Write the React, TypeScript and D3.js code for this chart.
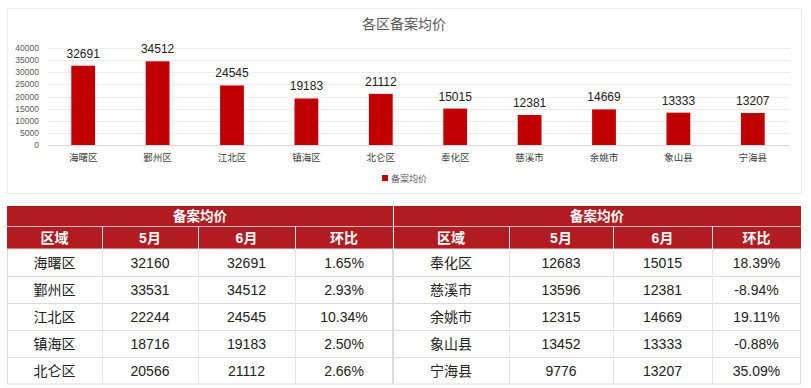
import { useEffect, useRef } from "react";
import * as d3 from "d3";

const districts = ["海曙区", "鄞州区", "江北区", "镇海区", "北仑区", "奉化区", "慈溪市", "余姚市", "象山县", "宁海县"];
const mayPrice = [32160, 33531, 22244, 18716, 20566, 12683, 13596, 12315, 13452, 9776];
const junePrice = [32691, 34512, 24545, 19183, 21112, 15015, 12381, 14669, 13333, 13207];
const momChange = ["1.65%", "2.93%", "10.34%", "2.50%", "2.66%", "18.39%", "-8.94%", "19.11%", "-0.88%", "35.09%"];
const yTicks = [0, 5000, 10000, 15000, 20000, 25000, 30000, 35000, 40000];
const chartTitle = "各区备案均价";
const seriesName = "备案均价";
const colHeaders = ["区域", "5月", "6月", "环比"];

const FONT = "'Liberation Sans', 'Noto Sans CJK SC', sans-serif";
const RED = "#c00000";
const HEAD = "#b01c22";

export default function App() {
  const ref = useRef<SVGSVGElement>(null);

  useEffect(() => {
    const svg = d3.select(ref.current);
    svg.selectAll("*").remove();

    // chart frame
    svg.append("rect").attr("x", 7.5).attr("y", 8.5).attr("width", 794).attr("height", 185)
      .attr("fill", "#fff").attr("stroke", "#ececec");

    svg.append("text").attr("x", 404).attr("y", 29).attr("text-anchor", "middle")
      .attr("font-size", 14).attr("fill", "#595959").text(chartTitle);

    const x = d3.scaleBand<string>().domain(districts).range([46, 790])
      .paddingInner(0.68).paddingOuter(0.34);
    const y = d3.scaleLinear().domain([0, 40000]).range([145, 48]);

    const grid = svg.append("g");
    grid.selectAll("line").data(yTicks).join("line")
      .attr("x1", 48).attr("x2", 790)
      .attr("y1", (d) => Math.round(y(d)) + 0.5).attr("y2", (d) => Math.round(y(d)) + 0.5)
      .attr("stroke", (d) => (d === 0 ? "#d9d9d9" : "#ececec"));
    grid.selectAll("text").data(yTicks).join("text")
      .attr("x", 39).attr("y", (d) => y(d) + 3).attr("text-anchor", "end")
      .attr("font-size", 8.5).attr("fill", "#595959").text((d) => d);

    const bars = svg.append("g");
    bars.selectAll("rect").data(junePrice).join("rect")
      .attr("x", (_, i) => x(districts[i])!).attr("width", x.bandwidth())
      .attr("y", (d) => y(d)).attr("height", (d) => y(0) - y(d)).attr("fill", RED);
    bars.selectAll("text.v").data(junePrice).join("text").attr("class", "v")
      .attr("x", (_, i) => x(districts[i])! + x.bandwidth() / 2).attr("y", (d) => y(d) - 8)
      .attr("text-anchor", "middle").attr("font-size", 12).attr("fill", "#222").text((d) => d);
    bars.selectAll("text.c").data(districts).join("text").attr("class", "c")
      .attr("x", (d) => x(d)! + x.bandwidth() / 2).attr("y", 161)
      .attr("text-anchor", "middle").attr("font-size", 9.5).attr("fill", "#404040").text((d) => d);

    // legend
    svg.append("rect").attr("x", 382).attr("y", 175).attr("width", 6).attr("height", 6).attr("fill", RED);
    svg.append("text").attr("x", 391).attr("y", 181.5).attr("font-size", 9).attr("fill", "#595959").text(seriesName);

    // table
    const top = 206, h1 = 20, h2 = 23, rowH = 27;
    const halves = [
      { edges: [7, 102, 198, 295, 393], start: 0 },
      { edges: [393, 509, 613, 712, 801], start: 5 },
    ];
    const bodyTop = top + h1 + h2;
    const t = svg.append("g");
    halves.forEach(({ edges, start }) => {
      const L = edges[0], R = edges[edges.length - 1];
      t.append("rect").attr("x", L).attr("y", top).attr("width", R - L).attr("height", h1 + h2).attr("fill", HEAD);
      t.append("text").attr("x", (L + R) / 2).attr("y", top + h1 / 2 + 5).attr("text-anchor", "middle")
        .attr("font-size", 13.5).attr("font-weight", "bold").attr("fill", "#fff").text(seriesName);
      t.append("line").attr("x1", L).attr("x2", R).attr("y1", top + h1 + 0.5).attr("y2", top + h1 + 0.5)
        .attr("stroke", "#e8b9bb");
      colHeaders.forEach((c, j) => {
        t.append("text").attr("x", (edges[j] + edges[j + 1]) / 2).attr("y", top + h1 + h2 / 2 + 5)
          .attr("text-anchor", "middle").attr("font-size", 14).attr("font-weight", "bold").attr("fill", "#fff").text(c);
      });
      // body grid
      t.append("rect").attr("x", L + 0.5).attr("y", bodyTop).attr("width", R - L - 1).attr("height", rowH * 5)
        .attr("fill", "#fff").attr("stroke", "#dcdcdc");
      for (let r = 1; r < 5; r++) {
        t.append("line").attr("x1", L).attr("x2", R).attr("y1", bodyTop + r * rowH + 0.5).attr("y2", bodyTop + r * rowH + 0.5)
          .attr("stroke", "#dcdcdc");
      }
      edges.slice(1, -1).forEach((e) => {
        t.append("line").attr("x1", e + 0.5).attr("x2", e + 0.5).attr("y1", top + h1).attr("y2", bodyTop + rowH * 5)
          .attr("stroke", "#e4e4e4");
      });
      for (let r = 0; r < 5; r++) {
        const i = start + r;
        const cells = [districts[i], String(mayPrice[i]), String(junePrice[i]), momChange[i]];
        cells.forEach((c, j) => {
          t.append("text").attr("x", (edges[j] + edges[j + 1]) / 2).attr("y", bodyTop + r * rowH + rowH / 2 + 5.5)
            .attr("text-anchor", "middle").attr("font-size", 14).attr("fill", "#222").text(c);
        });
      }
    });
    t.append("line").attr("x1", 393.5).attr("x2", 393.5).attr("y1", top).attr("y2", bodyTop).attr("stroke", "#fff");
  }, []);

  return (
    <svg ref={ref} width={811} height={388}
      style={{ position: "absolute", left: 0, top: 0, fontFamily: FONT, background: "#fff" }} />
  );
}
